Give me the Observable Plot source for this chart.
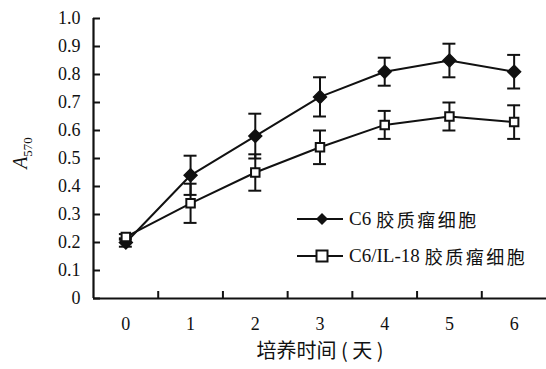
<!DOCTYPE html>
<html>
<head>
<meta charset="utf-8">
<script src="https://cdn.jsdelivr.net/npm/d3@7"></script>
<script src="https://cdn.jsdelivr.net/npm/@observablehq/plot@0.6"></script>
<style>
  body { margin: 0; background: #fff; }
  #wrap { position: relative; width: 546px; height: 369px; }
  .legend { position: absolute; left: 296px; font: 19px "Liberation Serif", "Noto Sans CJK SC", serif; color: #111; display: flex; align-items: center; white-space: nowrap; }
  .legend svg { margin-right: 5px; }
  .legend .cjk { font-family: "Noto Sans CJK SC", serif; font-size: 18px; letter-spacing: 2.5px; margin-left: 5px; }
</style>
</head>
<body>
<div id="wrap"></div>
<script>
const days = [0, 1, 2, 3, 4, 5, 6];
const c6Mean = [0.20, 0.44, 0.58, 0.72, 0.81, 0.85, 0.81];
const c6Err  = [0.015, 0.07, 0.08, 0.07, 0.05, 0.06, 0.06];
const ilMean = [0.22, 0.34, 0.45, 0.54, 0.62, 0.65, 0.63];
const ilErr  = [0.01, 0.07, 0.065, 0.06, 0.05, 0.05, 0.06];
const yTicks = [0, 0.1, 0.2, 0.3, 0.4, 0.5, 0.6, 0.7, 0.8, 0.9, 1.0];
const yTickLabels = ["0", "0.1", "0.2", "0.3", "0.4", "0.5", "0.6", "0.7", "0.8", "0.9", "1.0"];
const xLabel = "培养时间 ( 天 )";
const seriesLatin = ["C6", "C6/IL-18"];
const seriesCjk = ["胶质瘤细胞", "胶质瘤细胞"];

const c6 = days.map((d, i) => ({day: d, v: c6Mean[i], e: c6Err[i]}));
const il = days.map((d, i) => ({day: d, v: ilMean[i], e: ilErr[i]}));
const both = c6.concat(il);
const between = days.slice(0, -1).map(d => d + 0.5);
const capHalf = 0.1;

const font = `"Liberation Serif", "Noto Sans CJK SC", serif`;
const sw = 2;

const chart = Plot.plot({
  width: 546,
  height: 369,
  marginLeft: 93,
  marginRight: 0,
  marginTop: 18,
  marginBottom: 71,
  style: {fontFamily: font, fontSize: "18px", color: "#111", background: "#fff"},
  x: {domain: [-0.5, 6.5]},
  y: {domain: [0, 1]},
  marks: [
    Plot.axisY(yTicks, {tickSize: -7, tickPadding: 20, tickFormat: (d, i) => yTickLabels[i], label: null, strokeWidth: sw, fontSize: 18}),
    Plot.axisX(between, {tickSize: -7, tickFormat: () => "", label: null, strokeWidth: sw}),
    Plot.axisX(days, {tickSize: 0, tickPadding: 19, label: null, fontSize: 18}),
    Plot.ruleY([0], {stroke: "#111", strokeWidth: 2.2}),
    Plot.ruleX([-0.5], {y1: 0, y2: 1, stroke: "#111", strokeWidth: 2.2}),
    Plot.text([xLabel], {frameAnchor: "bottom", dy: 59, fontSize: 20, fontFamily: `"Noto Sans CJK SC", serif`, fill: "#111"}),
    Plot.line(c6, {x: "day", y: "v", stroke: "#111", strokeWidth: sw}),
    Plot.line(il, {x: "day", y: "v", stroke: "#111", strokeWidth: sw}),
    Plot.ruleX(both, {x: "day", y1: d => d.v - d.e, y2: d => d.v + d.e, stroke: "#111", strokeWidth: sw}),
    Plot.ruleY(both, {y: d => d.v + d.e, x1: d => d.day - capHalf, x2: d => d.day + capHalf, stroke: "#111", strokeWidth: sw}),
    Plot.ruleY(both, {y: d => d.v - d.e, x1: d => d.day - capHalf, x2: d => d.day + capHalf, stroke: "#111", strokeWidth: sw}),
    Plot.dot(c6, {x: "day", y: "v", symbol: "diamond2", r: 5.8, fill: "#111", stroke: "#111"}),
    Plot.dot(il, {x: "day", y: "v", symbol: "square2", r: 5.4, fill: "#fff", stroke: "#111", strokeWidth: sw})
  ]
});

const svg = d3.select(chart);
const yl = svg.append("text")
  .attr("transform", "translate(27,153) rotate(-90)")
  .attr("text-anchor", "middle")
  .attr("font-family", font)
  .attr("font-size", 20)
  .attr("fill", "#111");
yl.append("tspan").attr("font-style", "italic").text("A");
yl.append("tspan").attr("font-size", 13).attr("dy", 5).text("570");

const wrap = document.getElementById("wrap");
wrap.appendChild(chart);

function legendItem(latin, cjk, top, kind) {
  const div = document.createElement("div");
  div.className = "legend";
  div.style.top = top + "px";
  const sym = kind === "diamond"
    ? `<path d="M26,-6L32,0L26,6L20,0Z" fill="#111"/>`
    : `<rect x="20.5" y="-5.5" width="11" height="11" fill="#fff" stroke="#111" stroke-width="2"/>`;
  div.innerHTML = `<svg width="48" height="16" viewBox="0 -8 48 16"><line x1="1" x2="47" y1="0" y2="0" stroke="#111" stroke-width="2"/>${sym}</svg><span>${latin}</span><span class="cjk">${cjk}</span>`;
  wrap.appendChild(div);
}
legendItem(seriesLatin[0], seriesCjk[0], 206, "diamond");
legendItem(seriesLatin[1], seriesCjk[1], 243, "square");
</script>
</body>
</html>
